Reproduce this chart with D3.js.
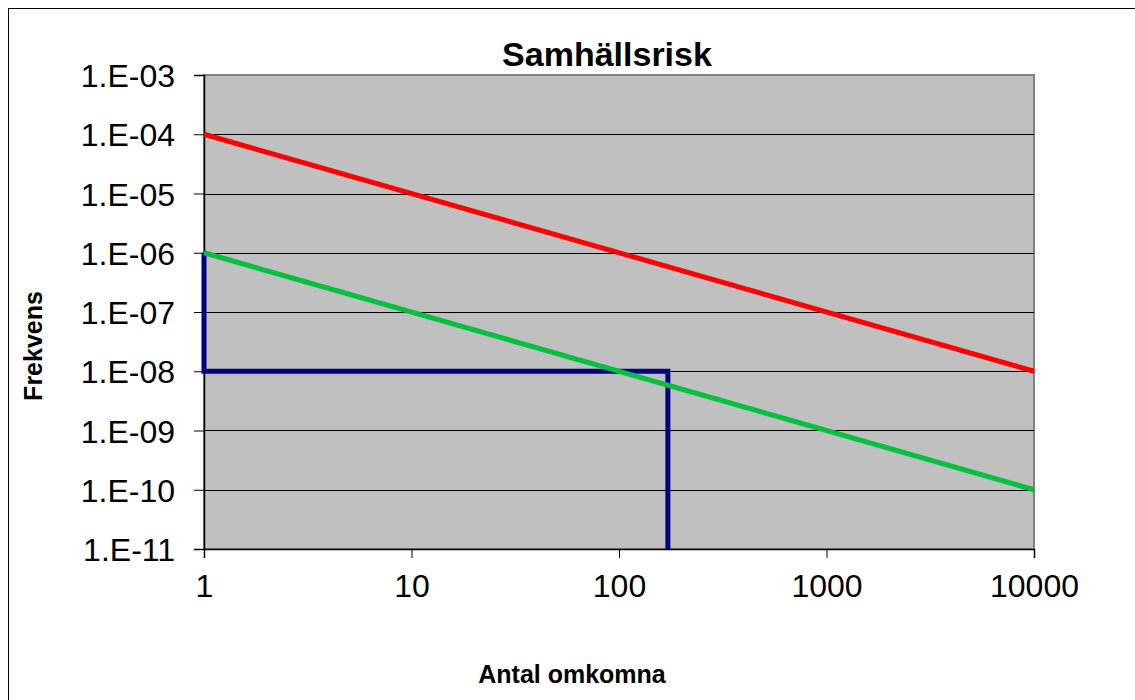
<!DOCTYPE html>
<html>
<head>
<meta charset="utf-8">
<script src="https://cdn.jsdelivr.net/npm/d3@7"></script>
<style>
  body { margin: 0; background: #fff; }
  text { font-family: "Liberation Sans", Arial, sans-serif; }
</style>
</head>
<body>
<div id="chart"></div>
<script>
// Data
const xExtent = [1, 10000];
const yExtent = [1e-11, 1e-3];
const xTicks = [1, 10, 100, 1000, 10000];
const yTicks = [1e-3, 1e-4, 1e-5, 1e-6, 1e-7, 1e-8, 1e-9, 1e-10, 1e-11];

const upperLimit = [[1, 1e-4], [10000, 1e-8]];
const lowerLimit = [[1, 1e-6], [10000, 1e-10]];
const riskCurve = [[1, 1e-6], [1, 1e-8], [172, 1e-8], [172, 1e-11]];

const series = [
  { name: "risk", values: riskCurve, color: "#000080" },
  { name: "upper", values: upperLimit, color: "#ff0000" },
  { name: "lower", values: lowerLimit, color: "#00c040" }
];

const width = 1135;
const height = 700;
const margin = { top: 75, right: 101, bottom: 151, left: 204 };

const svg = d3.select("#chart")
  .append("svg")
  .attr("width", width)
  .attr("height", height);

// outer chart border
svg.append("rect")
  .attr("x", 8.5).attr("y", 8.5)
  .attr("width", width).attr("height", height)
  .attr("fill", "#fff")
  .attr("stroke", "#000");

const x = d3.scaleLog()
  .domain(xExtent)
  .range([margin.left, width - margin.right]);

const y = d3.scaleLog()
  .domain(yExtent)
  .range([height - margin.bottom, margin.top]);

// plot area
svg.append("rect")
  .attr("x", x(1)).attr("y", y(1e-3))
  .attr("width", x(10000) - x(1))
  .attr("height", y(1e-11) - y(1e-3))
  .attr("fill", "#c0c0c0")
  .attr("stroke", "#808080")
  .attr("stroke-width", 2);

// gridlines
svg.append("g")
  .selectAll("line")
  .data(yTicks.slice(1, -1))
  .join("line")
  .attr("x1", x(1)).attr("x2", x(10000))
  .attr("y1", d => Math.round(y(d)) + 0.5)
  .attr("y2", d => Math.round(y(d)) + 0.5)
  .attr("stroke", "#000")
  .attr("stroke-width", 1);

const fmt = d => "1.E-" + String(Math.round(-Math.log10(d))).padStart(2, "0");

const yAxis = svg.append("g")
  .attr("transform", `translate(${x(1)},0)`)
  .call(d3.axisLeft(y).tickValues(yTicks).tickFormat(fmt).tickSize(10).tickPadding(19));

const xAxis = svg.append("g")
  .attr("transform", `translate(0,${y(1e-11)})`)
  .call(d3.axisBottom(x).tickValues(xTicks).tickFormat(d3.format("d")).tickSize(9).tickPadding(16));

[yAxis, xAxis].forEach(g => {
  g.selectAll("path.domain").attr("stroke", "#000").attr("stroke-width", 1.5);
  g.selectAll(".tick line").attr("stroke", "#000");
  g.selectAll(".tick text")
    .attr("fill", "#000")
    .style("font-family", "'Liberation Sans', Arial, sans-serif")
    .style("font-size", "32px");
});
yAxis.selectAll(".tick text").attr("dy", "0.36em");
xAxis.selectAll(".tick text").attr("dy", "0.71em");

const line = d3.line()
  .x(d => x(d[0]))
  .y(d => y(d[1]));

svg.append("g")
  .selectAll("path")
  .data(series)
  .join("path")
  .attr("d", d => line(d.values))
  .attr("fill", "none")
  .attr("stroke", d => d.color)
  .attr("stroke-width", 5)
  .attr("stroke-linejoin", "miter");

svg.append("text")
  .attr("x", 607).attr("y", 66)
  .attr("text-anchor", "middle")
  .style("font-size", "34px")
  .style("font-weight", "bold")
  .text("Samhällsrisk");

svg.append("text")
  .attr("x", 572).attr("y", 683)
  .attr("text-anchor", "middle")
  .style("font-size", "25px")
  .style("font-weight", "bold")
  .text("Antal omkomna");

svg.append("text")
  .attr("transform", "translate(42,346) rotate(-90)")
  .attr("text-anchor", "middle")
  .style("font-size", "25px")
  .style("font-weight", "bold")
  .text("Frekvens");
</script>
</body>
</html>
